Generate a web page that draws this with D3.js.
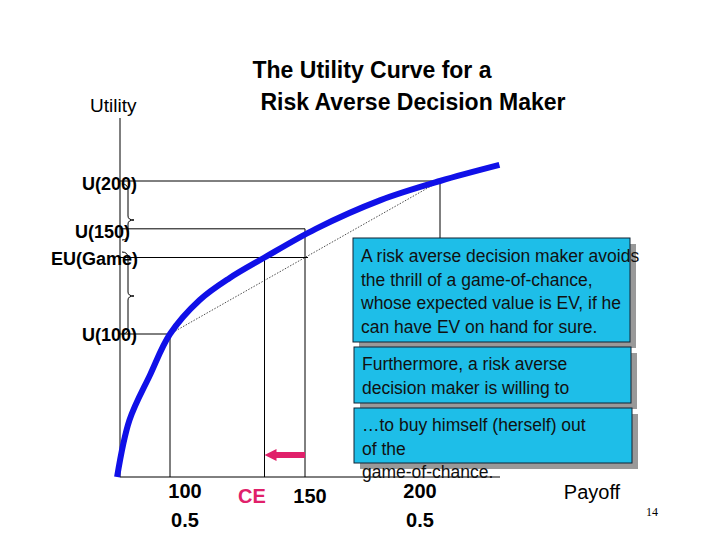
<!DOCTYPE html>
<html><head><meta charset="utf-8">
<script src="https://cdn.jsdelivr.net/npm/d3@7"></script>
<style>body{margin:0;background:#fff}svg{font-family:Arial,"Liberation Sans",sans-serif}</style>
</head><body><div id="chart"></div>
<script>
// Data (payoff, utility)
const curvePayoff = [80.4, 85, 92.6, 100, 111, 122, 135, 154, 178, 200, 222];
const curveUtility = [2.6, 17.5, 29.3, 40, 48.9, 54.6, 60, 67.5, 75, 80, 84.2];
const gamePayoffs = [100, 200];
const gameProbs = ["0.5", "0.5"];
const evPayoff = 150, cePayoff = 135;
const uLabels = ["U(200)", "U(150)", "EU(Game)", "U(100)"];
const uValues = [80, 67.5, 60, 40];

const svg = d3.select("#chart").append("svg").attr("width", 720).attr("height", 540);
const x = d3.scaleLinear().domain([100, 200]).range([170, 440]);
const y = d3.scaleLinear().domain([40, 80]).range([334, 181]);
const x0 = 120, yBase = 477;

// axes
svg.append("line").attr("x1", x0).attr("x2", x0).attr("y1", 118).attr("y2", yBase).attr("stroke", "#000");
svg.append("line").attr("x1", x0).attr("x2", 500).attr("y1", yBase).attr("y2", yBase).attr("stroke", "#000");

const thin = (x1, y1, x2, y2) => svg.append("line").attr("x1", x1).attr("y1", y1).attr("x2", x2).attr("y2", y2).attr("stroke", "#000").attr("stroke-width", 1);
// guide lines
thin(x0, y(80), x(200) + 3, y(80)); thin(x(200), y(80), x(200), 245);
thin(x0, y(67.5), x(150), y(67.5)); thin(x(150), y(67.5), x(150), yBase);
thin(x0, y(60), x(150) + 3, y(60)); thin(x(cePayoff), y(60), x(cePayoff), yBase);
thin(x0, y(40), x(100), y(40)); thin(x(100), y(40), x(100), yBase);
// chord
svg.append("line").attr("x1", x(100)).attr("y1", y(40)).attr("x2", x(200)).attr("y2", y(80))
  .attr("stroke", "#000").attr("stroke-width", 0.7).attr("stroke-dasharray", "1.5,1.5");

// braces
function brace(xb, y1, y2, ym) {
  const w = 6;
  svg.append("path").attr("fill", "none").attr("stroke", "#000").attr("stroke-width", 1)
    .attr("d", `M${xb},${y1} Q${xb + w},${y1} ${xb + w},${y1 + 6} L${xb + w},${ym - 4} Q${xb + w},${ym} ${xb + 2 * w},${ym} Q${xb + w},${ym} ${xb + w},${ym + 4} L${xb + w},${y2 - 6} Q${xb + w},${y2} ${xb},${y2}`);
}
brace(122, 184, 240, 220);
brace(122, 252, 334, 296);

// curve
const pts = curvePayoff.map((p, i) => [x(p), y(curveUtility[i])]);
svg.append("path").datum(pts).attr("fill", "none").attr("stroke", "#1010e8").attr("stroke-width", 6)
  .attr("stroke-linecap", "butt").attr("d", d3.line().curve(d3.curveCatmullRom));

// y labels
const lx = [137, 130, 138, 137];
const ly = [190, 238, 265, 341];
uLabels.forEach((t, i) => svg.append("text").attr("x", lx[i]).attr("y", ly[i]).attr("text-anchor", "end")
  .attr("font-size", 18).attr("font-weight", "bold").text(t));

// titles
svg.append("text").attr("x", 372).attr("y", 78).attr("text-anchor", "middle").attr("font-size", 23).attr("font-weight", "bold").text("The Utility Curve for a");
svg.append("text").attr("x", 413).attr("y", 110).attr("text-anchor", "middle").attr("font-size", 23).attr("font-weight", "bold").text("Risk Averse Decision Maker");
svg.append("text").attr("x", 90).attr("y", 112).attr("font-size", 19).text("Utility");

// x labels
gamePayoffs.forEach((p, i) => {
  const cx = x(p) + (i === 0 ? 15 : -20);
  svg.append("text").attr("x", cx).attr("y", 498).attr("text-anchor", "middle").attr("font-size", 20).attr("font-weight", "bold").text(p);
  svg.append("text").attr("x", cx).attr("y", 527).attr("text-anchor", "middle").attr("font-size", 20).attr("font-weight", "bold").text(gameProbs[i]);
});
svg.append("text").attr("x", 310).attr("y", 503).attr("text-anchor", "middle").attr("font-size", 20).attr("font-weight", "bold").text(evPayoff);
svg.append("text").attr("x", 252).attr("y", 503).attr("text-anchor", "middle").attr("font-size", 20).attr("font-weight", "bold").attr("fill", "#e0206a").text("CE");
svg.append("text").attr("x", 592).attr("y", 499).attr("text-anchor", "middle").attr("font-size", 20).text("Payoff");
svg.append("text").attr("x", 652).attr("y", 516).attr("text-anchor", "middle").attr("font-size", 12).attr("font-family", "Liberation Serif,serif").text("14");

// CE arrow
svg.append("line").attr("x1", x(150)).attr("x2", x(cePayoff) + 8).attr("y1", 455).attr("y2", 455).attr("stroke", "#e0206a").attr("stroke-width", 6);
svg.append("path").attr("fill", "#e0206a").attr("d", `M${x(cePayoff)},455 L${x(cePayoff) + 12},449 L${x(cePayoff) + 12},461 Z`);

// text boxes
const boxes = [
  {x: 353, y: 238, w: 277, h: 104, lines: ["A risk averse decision maker avoids", "the thrill of a game-of-chance,", "whose expected value is EV, if he", "can have EV on hand for sure."], ty: 262},
  {x: 354, y: 347, w: 277, h: 56, lines: ["Furthermore, a risk averse", "decision maker is willing to", "pay a premium..."], ty: 370},
  {x: 354, y: 408, w: 278, h: 55, lines: ["\u2026to buy himself (herself) out", "of the", "game-of-chance."], ty: 431}
];
boxes.forEach(b => {
  svg.append("rect").attr("x", b.x + 6).attr("y", b.y + 6).attr("width", b.w).attr("height", b.h).attr("fill", "#999");
  svg.append("rect").attr("x", b.x).attr("y", b.y).attr("width", b.w).attr("height", b.h).attr("fill", "#1ebee8").attr("stroke", "#123").attr("stroke-width", 1);
});
boxes.forEach((b, bi) => {
  b.lines.forEach((t, i) => {
    if (bi === 1 && i === 2) return;
    svg.append("text").attr("x", b.x + 8).attr("y", b.ty + i * 23.5).attr("font-size", 17.5).attr("fill", "#111").text(t);
  });
});
</script></body></html>
